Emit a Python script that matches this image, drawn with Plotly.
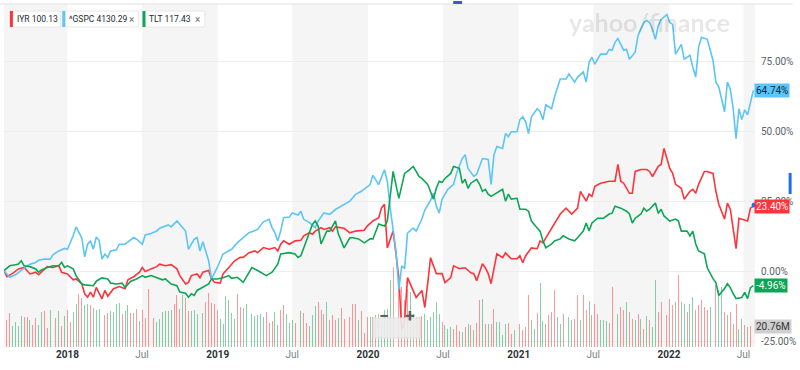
import plotly.graph_objects as go
import pandas as pd

START = "2017-07-31"
END = "2022-07-29"

# weekly index (weeks since START) and % change values
gspc_week = [0, 2, 4, 5, 7, 9, 11, 12, 14, 16,
             17, 19, 21, 22, 24, 25, 27, 28, 29, 30,
             31, 32, 33, 34, 35, 36, 37, 39, 40, 42,
             44, 45, 46, 48, 49, 51, 53, 54, 57, 58,
             60, 61, 63, 64, 66, 67, 68, 69, 71, 72,
             74, 76, 79, 81, 83, 85, 88, 90, 92, 93,
             94, 95, 96, 97, 99, 100, 102, 103, 104, 106,
             108, 109, 111, 113, 115, 118, 120, 122, 124, 127,
             128, 130, 131, 132, 133, 134, 136, 137, 138, 139,
             140, 142, 143, 145, 146, 148, 149, 150, 151, 152,
             154, 156, 157, 159, 160, 161, 163, 164, 166, 168,
             169, 170, 171, 173, 174, 175, 176, 178, 179, 180,
             181, 182, 183, 185, 186, 187, 188, 190, 191, 193,
             195, 196, 198, 199, 201, 202, 203, 204, 205, 207,
             209, 210, 211, 212, 213, 214, 215, 216, 217, 219,
             220, 222, 223, 224, 225, 226, 227, 228, 229, 230,
             231, 232, 233, 235, 236, 238, 239, 240, 241, 242,
             244, 246, 247, 248, 250, 251, 252, 253, 254, 255,
             256, 257, 258, 259, 260]
gspc_pct = [0.3, -2.0, -1.1, -0.2, 1.3, 2.7, 3.3, 4.1, 4.5, 4.5,
            6.0, 7.4, 8.3, 8.0, 12.8, 16.0, 12.0, 5.3, 9.8, 11.0,
            8.0, 12.4, 11.2, 4.5, 6.3, 5.1, 7.4, 7.8, 9.8, 9.8,
            11.2, 12.2, 11.6, 9.8, 13.1, 13.6, 14.5, 15.5, 16.7, 16.0,
            18.1, 16.9, 14.5, 8.0, 11.6, 12.2, 7.4, 10.7, 3.9, -2.6,
            1.5, 6.3, 8.0, 10.4, 12.0, 13.9, 15.1, 17.8, 18.7, 15.7,
            13.9, 11.0, 14.5, 19.3, 19.5, 21.0, 20.2, 21.6, 18.7, 17.5,
            15.7, 18.1, 21.0, 20.5, 22.2, 24.0, 25.2, 27.6, 28.7, 31.1,
            34.4, 31.1, 34.0, 36.4, 32.3, 22.7, 7.4, -6.4, 2.1, 1.1,
            13.8, 15.6, 14.5, 18.8, 22.0, 25.5, 28.0, 23.4, 20.9, 25.9,
            29.4, 31.2, 35.1, 40.4, 41.8, 36.9, 34.0, 34.8, 40.4, 40.1,
            31.2, 41.8, 44.7, 44.0, 49.3, 48.2, 50.0, 50.0, 54.3, 55.3,
            53.5, 49.3, 55.3, 58.2, 57.1, 54.3, 59.6, 58.2, 62.4, 68.8,
            68.8, 70.6, 67.7, 69.5, 71.3, 67.7, 74.8, 76.6, 74.1, 77.7,
            77.7, 79.4, 79.1, 81.9, 83.3, 81.2, 79.1, 79.4, 75.9, 78.4,
            84.4, 89.0, 89.7, 89.0, 86.5, 83.0, 87.9, 90.1, 90.8, 91.8,
            89.0, 88.3, 77.7, 81.2, 75.9, 77.3, 73.0, 69.5, 80.1, 83.7,
            83.0, 75.5, 67.7, 66.0, 57.1, 67.7, 65.2, 58.2, 47.5, 58.2,
            54.3, 57.8, 56.0, 60.6, 64.74]

iyr_week = [0, 1, 3, 5, 7, 9, 11, 12, 15, 17,
            19, 20, 22, 24, 25, 27, 28, 29, 30, 31,
            32, 34, 35, 36, 38, 40, 42, 43, 45, 47,
            48, 49, 51, 53, 54, 56, 58, 60, 61, 63,
            64, 65, 67, 68, 69, 71, 72, 73, 75, 76,
            78, 80, 82, 83, 85, 87, 88, 90, 92, 94,
            95, 96, 97, 99, 101, 103, 104, 106, 107, 108,
            110, 111, 113, 114, 115, 118, 120, 122, 125, 126,
            128, 130, 131, 132, 133, 135, 136, 137, 138,
            139, 140, 142, 143, 145, 146, 147, 148, 150, 152,
            153, 155, 156, 158, 160, 162, 163, 164, 166, 167,
            168, 169, 171, 173, 174, 176, 178, 179, 180, 181,
            183, 185, 186, 187, 188, 190, 191, 193, 195, 196,
            197, 199, 200, 202, 203, 204, 205, 207, 210, 212,
            213, 214, 215, 217, 218, 219, 221, 223, 224, 225,
            227, 228, 229, 231, 232, 233, 235, 236, 238, 239,
            240, 241, 243, 244, 246, 247, 248, 250, 251, 252,
            253, 254, 255, 256, 258, 259, 260]
iyr_pct = [0.4, -1.8, -0.6, 1.0, 1.5, -0.8, -0.2, -1.1, 1.8, 1.5,
           2.1, -0.2, -0.8, -2.9, -2.6, -4.4, -7.9, -9.1, -7.3, -9.1,
           -5.6, -9.7, -6.7, -8.8, -6.1, -5.3, -6.1, -2.9, -1.8, -0.2,
           1.5, 0.1, 1.0, 1.8, 2.7, 2.1, 2.5, 1.0, -1.4, -4.4,
           -3.8, -1.4, -0.8, -2.2, -0.2, 0.4, -2.6, -3.8, -4.1, -0.8,
           1.5, 3.9, 5.1, 5.1, 6.8, 7.4, 6.8, 8.6, 8.0, 8.6,
           7.4, 9.8, 11.0, 9.8, 11.0, 11.2, 12.8, 13.9, 13.4, 14.5,
           15.7, 15.1, 15.7, 14.5, 16.0, 15.5, 13.9, 14.5, 14.8, 16.3,
           18.1, 19.3, 22.8, 24.1, 8.5, 14.5, 6.4, -2.1, -20.9,
           -17.4, -2.1, -6.7, -9.2, -6.7, -12.8, -4.3, 5.0, -0.7, -0.7,
           -3.9, -2.1, 2.1, 1.1, 1.4, -0.4, -0.7, -3.2, 2.8, 1.4,
           -0.7, -4.3, 6.4, 5.0, 6.7, 4.6, 4.6, 5.7, 3.2, 5.7,
           8.5, 8.2, 11.0, 10.3, 12.1, 15.6, 17.0, 20.6, 22.7, 21.6,
           20.6, 22.7, 28.7, 25.2, 27.7, 26.9, 30.5, 31.6, 32.3, 32.3,
           38.3, 32.3, 31.6, 28.0, 28.0, 35.8, 36.5, 36.5, 35.8, 34.0,
           37.6, 38.3, 44.0, 36.9, 35.1, 31.2, 29.8, 25.9, 28.7, 29.4,
           28.0, 31.2, 35.8, 35.8, 35.1, 28.7, 24.1, 18.8, 24.5, 22.3,
           14.5, 8.2, 19.1, 18.8, 18.1, 22.7, 23.40]

tlt_week = [0, 2, 4, 5, 6, 7, 9, 11, 12, 13,
            15, 17, 19, 20, 21, 22, 24, 25, 27, 28,
            31, 32, 34, 36, 37, 39, 41, 42, 44, 46,
            48, 49, 51, 53, 55, 56, 58, 60, 61, 63,
            64, 65, 66, 67, 69, 71, 72, 74, 76, 78,
            79, 81, 83, 84, 86, 88, 90, 91, 93, 95,
            96, 97, 99, 101, 102, 103, 104, 106, 107, 108,
            109, 110, 112, 113, 115, 116, 118, 120, 121, 123,
            125, 127, 128, 130, 132, 133, 134, 135, 137, 138,
            139, 140, 142, 144, 145, 147, 149, 150, 151, 152,
            153, 155, 156, 158, 159, 160, 161, 162, 163, 164,
            165, 166, 167, 168, 169, 171, 173, 174, 175, 176,
            178, 179, 181, 182, 183, 185, 186, 187, 188, 190,
            191, 193, 194, 196, 198, 199, 201, 202, 203, 204,
            206, 208, 210, 211, 212, 214, 216, 217, 218, 219,
            221, 222, 223, 224, 225, 226, 227, 228, 229, 231,
            233, 234, 235, 237, 238, 239, 240, 241, 243, 244,
            246, 247, 248, 250, 251, 252, 253, 254, 256, 257,
            258, 259, 260]
tlt_pct = [0.4, 2.1, 2.5, 2.7, 3.9, 2.1, 1.8, 1.0, -0.2, 0.6,
           1.5, 2.1, 2.1, 3.3, 1.5, 2.1, 1.0, -1.4, -4.4, -4.7,
           -5.0, -3.4, -2.2, -2.6, -4.1, -4.4, -4.1, -5.6, -3.4, -2.6,
           -1.4, -2.0, -1.4, -2.2, -2.9, -2.6, -4.4, -5.0, -7.3, -7.7,
           -9.1, -7.9, -8.5, -6.7, -5.6, -4.4, -2.6, -2.6, -2.2, -1.4,
           -2.4, -2.0, -3.8, -2.0, 1.5, 0.4, -0.8, -1.4, -0.2, 2.7,
           6.3, 6.5, 6.8, 6.3, 5.1, 5.7, 8.6, 14.5, 16.9, 18.1,
           16.3, 9.9, 14.5, 14.5, 18.1, 13.5, 8.5, 12.1, 12.1, 11.7,
           10.3, 11.7, 11.7, 17.0, 16.3, 18.1, 26.2, 35.8, 26.2, 31.2,
           35.1, 35.8, 37.6, 34.0, 33.3, 31.2, 25.9, 29.8, 32.3, 31.9,
           33.3, 35.1, 37.6, 36.9, 31.6, 33.0, 29.8, 31.6, 32.3, 33.0,
           31.2, 28.7, 29.4, 27.7, 26.9, 28.0, 29.4, 25.2, 27.7, 25.9,
           26.2, 22.3, 22.3, 21.6, 18.1, 15.6, 14.5, 11.0, 8.5, 9.9,
           11.0, 11.7, 12.8, 11.7, 11.0, 12.1, 14.5, 17.4, 14.5, 17.4,
           19.1, 19.1, 20.6, 20.9, 23.4, 22.7, 21.6, 20.6, 17.4, 19.1,
           20.6, 22.7, 21.6, 22.3, 23.4, 24.5, 20.9, 22.3, 19.9, 18.1,
           18.8, 18.1, 14.5, 14.5, 12.8, 14.5, 9.9, 7.4, 6.4, 1.4,
           -2.5, -3.9, -8.5, -6.0, -4.3, -5.7, -7.8, -9.6, -9.2, -7.4,
           -9.6, -5.7, -4.96]

# weekly volume (millions), one value per week from START; u = up week, d = down week
volume_m = [32, 27, 34, 21, 25, 21, 31, 30, 30, 27,
            22, 29, 22, 35, 36, 19, 37, 31, 29,
            36, 21, 31, 37, 25, 35, 43, 53, 49, 42,
            43, 42, 39, 37, 38, 52, 32, 34, 36, 35,
            43, 44, 33,
            36, 42, 34, 34, 38, 26,
            37, 29, 58, 22, 29, 25, 28, 35, 36, 36,
            37, 43, 52, 38, 52, 49, 36, 36, 37, 33,
            40, 34, 45, 54, 44, 43, 37, 28, 23, 51,
            47, 34, 28, 53, 40, 39, 43, 41, 33, 31,
            32, 33, 30, 35, 24,
            26, 35, 22, 37,
            42, 33, 24, 27, 24, 27, 36, 34, 24, 21,
            32, 41, 45, 37, 33, 45, 27, 32, 27, 29,
            39, 28, 33, 30, 43, 43, 27, 36, 14, 30,
            30, 30, 32, 33, 22, 37, 38,
            67, 80, 78, 67, 60, 47, 58, 55, 33,
            30, 30, 31, 33, 27, 30, 35, 45, 33, 25,
            22, 18, 20, 18, 22, 16, 15, 20, 23, 22,
            17, 24, 47, 48, 23, 23, 23, 38, 25, 25,
            12, 23, 24, 13, 17, 58, 23, 17, 20, 52,
            27, 18, 34, 64, 26, 23, 32, 35, 57, 30,
            23, 33, 67, 30, 27, 28, 52, 27, 52, 37,
            46, 32, 43, 33, 27, 27, 26, 24, 60, 35,
            33, 40, 37, 45, 35, 28, 27, 33, 28, 18,
            31, 27, 20,
            67, 35, 45, 35, 32, 48, 42, 45, 72, 45,
            43, 35, 43, 50, 37, 42, 47, 40, 37, 40,
            45, 62, 57, 60, 35, 32, 35, 23, 43, 18,
            28, 22, 20, 20.76]
volume_dir = ("ddduuuudd" "u" "ddu" "udduddu" "dudduudduu"
              "duuuudduuu" "udu" "udud" "udd" "duduuuuuu"
              "dddudduuud" "uddddduuuu" "uudduudu" "uuuudddu" "uddu"
              "uuddudduuu" "dddudddudd" "ud" "dduddduddu" "uuuudud"
              "ddduddudu" "uu"
              "uuudu" "uuddd" "udududd" "udu" "dduuuudduu"
              "dddduuduud" "ddduudduu" "ddudd" "uddduuuddu"
              "udduddud" "udud" "uuddud" "ddudu" "ud" "uuddddd"
              "uud" "uud" "ud" "d"
              "duudududdd" "uddduu" "duuuddu" "udddduddud" "dduu")

# axis tick labels
tick_dates = ["2018-01-01", "2018-07-01", "2019-01-01", "2019-07-01",
              "2020-01-01", "2020-07-01", "2021-01-01", "2021-07-01",
              "2022-01-01", "2022-07-01"]
tick_names = ["2018", "Jul", "2019", "Jul", "2020", "Jul", "2021", "Jul", "2022", "Jul"]
pct_ticks = [-25, 0, 25, 50, 75]
band_years = [2017, 2018, 2019, 2020, 2021, 2022]

RED = "#ff333a"
BLUE = "#5cc5f7"
GREEN = "#0da656"
VOL_UP = "rgba(40,170,100,0.55)"
VOL_DN = "rgba(255,70,70,0.55)"

base = pd.Timestamp(START)


def to_dates(weeks):
    return [base + pd.Timedelta(weeks=w) for w in weeks]


dirs = list(volume_dir)
vol_dates = pd.date_range(START, periods=len(volume_m), freq="7D")
vol_colors = [VOL_UP if (dirs[i] if i < len(dirs) else "u") == "u" else VOL_DN
              for i in range(len(volume_m))]

fig = go.Figure()
fig.add_trace(go.Bar(x=vol_dates, y=volume_m, marker_color=vol_colors,
                     marker_line_width=0, width=2.3 * 86400000, yaxis="y",
                     hoverinfo="skip"))
fig.add_trace(go.Scatter(x=to_dates(iyr_week), y=iyr_pct, mode="lines",
                         line=dict(color=RED, width=1.6), yaxis="y2", name="IYR"))
fig.add_trace(go.Scatter(x=to_dates(gspc_week), y=gspc_pct, mode="lines",
                         line=dict(color=BLUE, width=1.6), yaxis="y2", name="^GSPC"))
fig.add_trace(go.Scatter(x=to_dates(tlt_week), y=tlt_pct, mode="lines",
                         line=dict(color=GREEN, width=1.6), yaxis="y2", name="TLT"))

shapes = []
for yr in band_years:
    x0 = f"{yr}-07-01"
    x1 = f"{yr + 1}-01-01" if yr < 2022 else END
    shapes.append(dict(type="rect", xref="x", yref="paper", x0=x0, x1=x1, y0=0, y1=1,
                       fillcolor="#f5f5f5", line=dict(width=0), layer="below"))

# frame line on top
shapes.append(dict(type="line", xref="paper", yref="paper", x0=-0.006, x1=1.05, y0=1, y1=1,
                   line=dict(color="#e2e2e2", width=1)))


def px_x(p):
    return (p - 4) / 759.0


def px_y(p):
    return (347 - p) / 343.0


annotations = []
# legend chips
chips = [("IYR 100.13", RED, 10, 61, False), ("^GSPC 4130.29", BLUE, 63, 140, True),
         ("TLT 117.43", GREEN, 144, 207, True)]
for text, col, a, b, closable in chips:
    shapes.append(dict(type="rect", xref="paper", yref="paper", x0=px_x(a), x1=px_x(b),
                       y0=px_y(27), y1=px_y(11), fillcolor="white",
                       line=dict(color="#e8e8e8", width=1)))
    shapes.append(dict(type="rect", xref="paper", yref="paper", x0=px_x(a), x1=px_x(a + 3),
                       y0=px_y(27), y1=px_y(11), fillcolor=col, line=dict(width=0)))
    annotations.append(dict(xref="paper", yref="paper", x=px_x(a + 5), y=px_y(19.5),
                            xanchor="left", yanchor="middle", showarrow=False, text=text,
                            font=dict(size=8.5, color="#232a31", family="Roboto")))
    if closable:
        annotations.append(dict(xref="paper", yref="paper", x=px_x(b - 3), y=px_y(19),
                                xanchor="right", yanchor="middle", showarrow=False, text="×",
                                font=dict(size=10, color="#6f6f6f", family="Roboto")))

# watermark
annotations.append(dict(xref="paper", yref="paper", x=px_x(656), y=px_y(22), showarrow=False,
                        text="<b>yahoo/finance</b>", xanchor="center", yanchor="middle",
                        font=dict(size=25, color="rgba(0,0,0,0.11)", family="Lato")))

# last value labels
annotations += [
    dict(xref="paper", x=1, xanchor="left", xshift=-1, yref="y2", y=64.74, text="64.74%",
         showarrow=False, bgcolor=BLUE, font=dict(size=10, color="#0f2a3d"), borderpad=1),
    dict(xref="paper", x=1, xanchor="left", xshift=-1, yref="y2", y=23.40, text="23.40%",
         showarrow=False, bgcolor=RED, font=dict(size=10, color="white"), borderpad=1),
    dict(xref="paper", x=1, xanchor="left", xshift=-1, yref="y2", y=-4.96, text="-4.96%",
         showarrow=False, bgcolor=GREEN, font=dict(size=10, color="white"), borderpad=1),
    dict(xref="paper", x=1, xanchor="left", xshift=-1, yref="y", y=volume_m[-1], text="20.76M",
         showarrow=False, bgcolor="#cfcfcf", font=dict(size=10, color="#333"), borderpad=1),
]

# current-point dot and side markers
shapes.append(dict(type="circle", xref="paper", yref="paper", x0=px_x(759.5), x1=px_x(764.5),
                   y0=px_y(207.5), y1=px_y(202.5), fillcolor="#1a6ff0", line=dict(width=0)))
shapes.append(dict(type="rect", xref="paper", yref="paper", x0=px_x(797), x1=px_x(800),
                   y0=px_y(194), y1=px_y(173), fillcolor="#1a6ff0", line=dict(width=0)))
shapes.append(dict(type="rect", xref="paper", yref="paper", x0=px_x(458), x1=px_x(467),
                   y0=px_y(4), y1=px_y(1), fillcolor="#3b5cc6", line=dict(width=0)))

# zoom control overlay
shapes.append(dict(type="rect", xref="paper", yref="paper", x0=px_x(377), x1=px_x(425),
                   y0=px_y(338), y1=px_y(318), fillcolor="rgba(236,236,236,0.92)",
                   line=dict(color="#e0e0e0", width=1)))
annotations.append(dict(xref="paper", yref="paper", x=px_x(388), y=px_y(328), text="<b>−</b>",
                        showarrow=False, font=dict(size=18, color="#5f5f5f")))
annotations.append(dict(xref="paper", yref="paper", x=px_x(414), y=px_y(328), text="<b>+</b>",
                        showarrow=False, font=dict(size=18, color="#5f5f5f")))

tick_text = [f"<b><span style='color:#2c3338'>{t}</span></b>" if t != "Jul" else t
             for t in tick_names]

fig.update_layout(
    width=800, height=370,
    margin=dict(l=4, r=37, t=4, b=23),
    paper_bgcolor="white", plot_bgcolor="white",
    showlegend=False, bargap=0,
    font=dict(family="Roboto, 'Open Sans', sans-serif", size=10, color="#555"),
    xaxis=dict(type="date", range=[START, END], tickvals=tick_dates, ticktext=tick_text,
               showgrid=False, zeroline=False, showline=False, ticks="",
               tickfont=dict(size=10, color="#7a8187")),
    yaxis=dict(range=[0, 343], visible=False, fixedrange=True),
    yaxis2=dict(overlaying="y", side="right", range=[-26.9, 95.6], tickvals=pct_ticks,
                ticktext=[f"{v:.2f}%" for v in pct_ticks], showgrid=True, gridcolor="#ededed",
                zeroline=False, showline=False, ticks="outside", ticklen=3,
                tickcolor="rgba(0,0,0,0)", tickfont=dict(size=10, color="#5b636a")),
    shapes=shapes, annotations=annotations,
)

fig.write_html("out.html", config={"displayModeBar": False},
               post_script="document.body.style.margin='0px';")
